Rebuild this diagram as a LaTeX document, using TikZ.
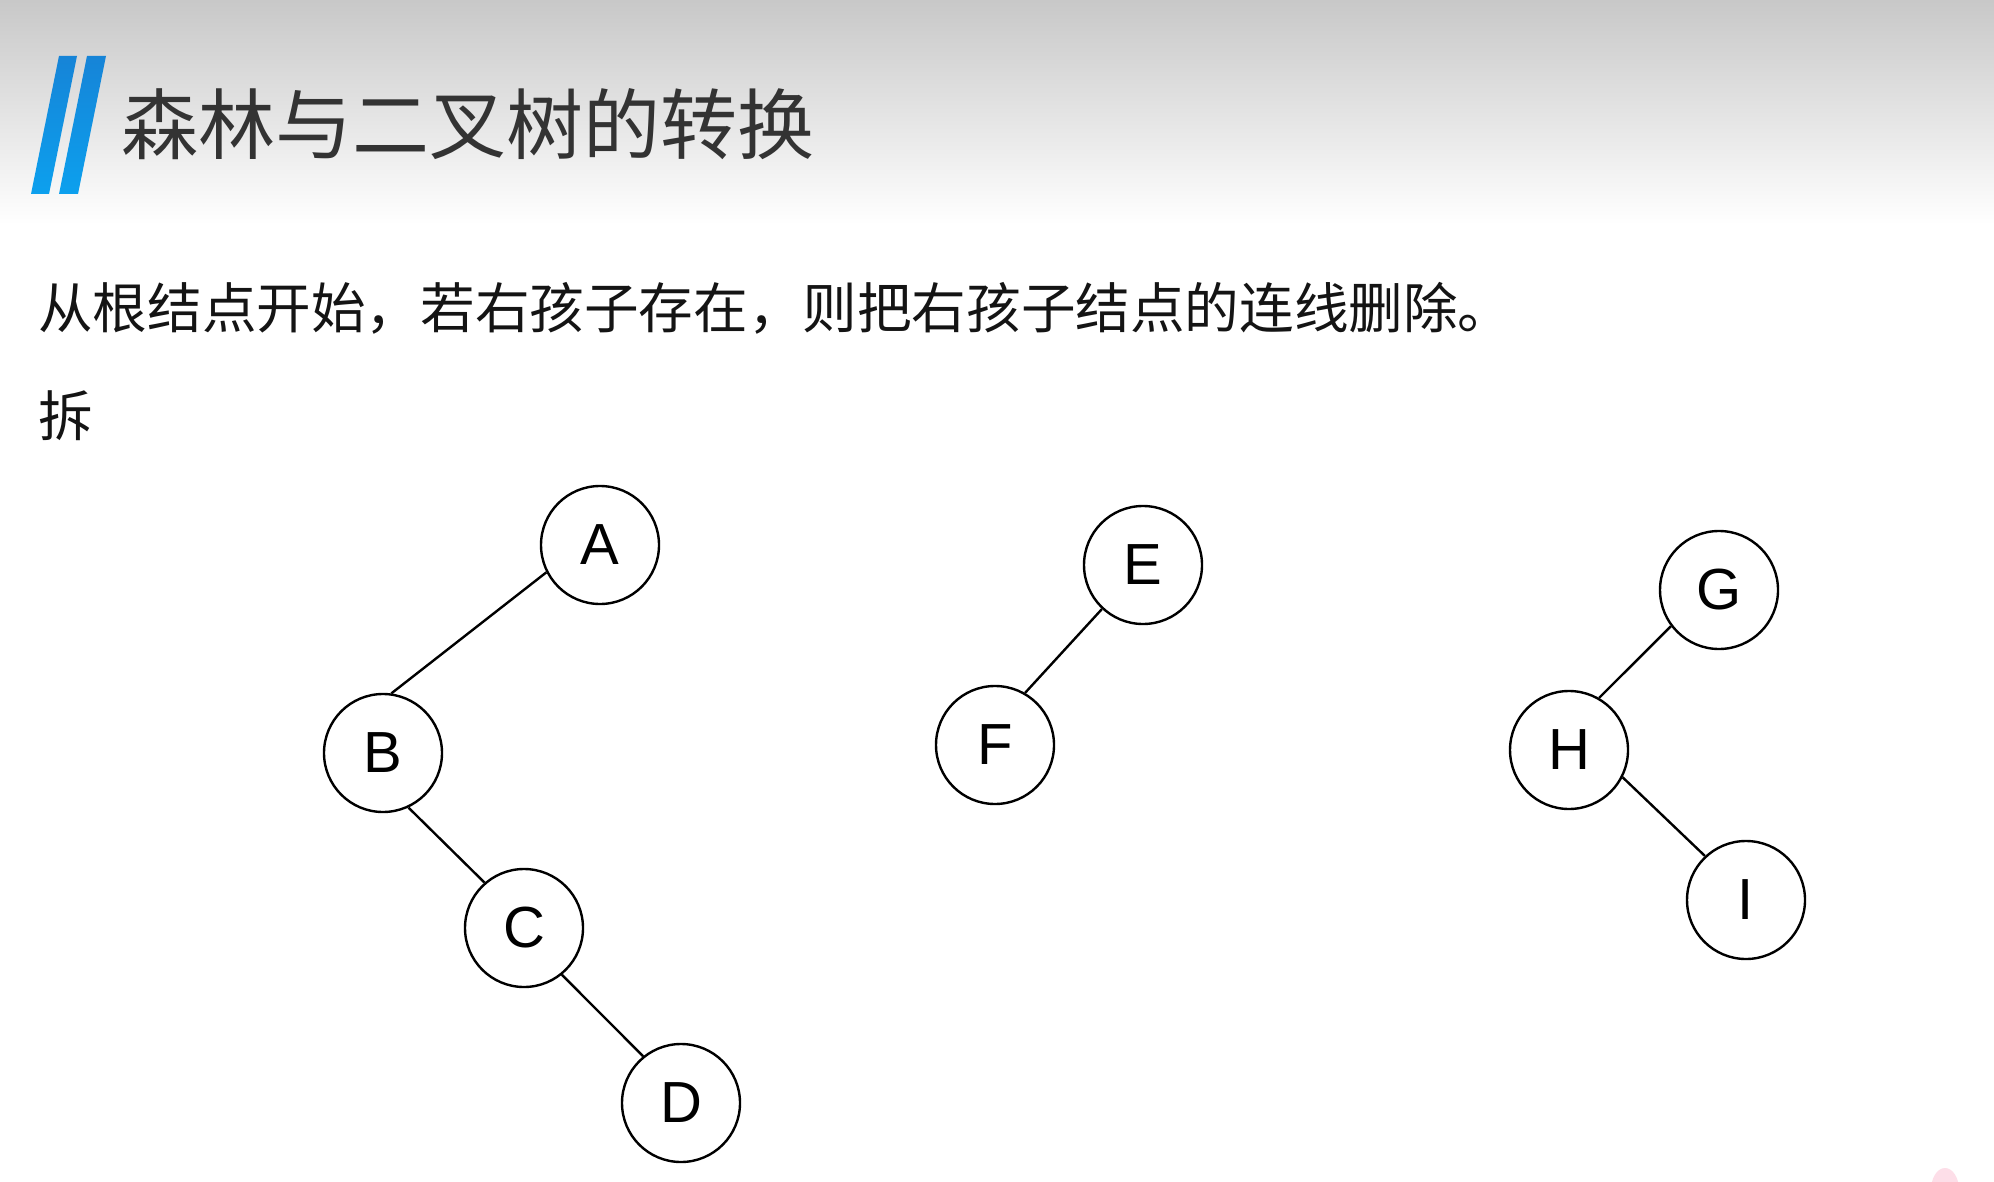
\documentclass[tikz,border=0pt]{standalone}
\usepackage{fontspec}
\setmainfont{Liberation Sans}
\newfontfamily\cjk{Noto Sans CJK SC}
\definecolor{hdrgray}{RGB}{200,200,200}
\definecolor{bartop}{RGB}{22,132,215}
\definecolor{barbot}{RGB}{12,160,238}
\definecolor{titlegray}{RGB}{51,51,51}
\definecolor{bodyblack}{RGB}{20,20,20}
\definecolor{pinkblob}{RGB}{253,222,232}
\begin{document}
\begin{tikzpicture}[x=1pt,y=-1pt,
  tnode/.style={circle,draw,line width=2.4pt,minimum size=118pt,inner sep=0pt,
    font=\fontsize{58}{58}\selectfont},
  edge/.style={line width=2.4pt},
  txt/.style={anchor=west,inner sep=0pt,text=bodyblack,font=\cjk\fontsize{54.6}{55}\selectfont}]
\useasboundingbox (0,0) rectangle (1994,1182);
\fill[white] (0,0) rectangle (1994,1182);
\shade[top color=hdrgray,bottom color=white] (0,0) rectangle (1994,225);
% logo bars
\shade[top color=bartop,bottom color=barbot] (59,56) -- (77,56) -- (49,194) -- (31,194) -- cycle;
\shade[top color=bartop,bottom color=barbot] (87,56) -- (106,56) -- (78,194) -- (59,194) -- cycle;
% title
\node[anchor=west,inner sep=0pt,text=titlegray,font=\cjk\fontsize{77}{77}\selectfont] (title) at (121,124) {森林与二叉树的转换};
% body text
\node[txt] (l1) at (38,308) {从根结点开始，若右孩子存在，则把右孩子结点的连线删除。};
\node[txt] (l2) at (38,416) {拆};
% trees
\node[tnode] (A) at (600,545) {A};
\node[tnode] (B) at (383,753) {B};
\node[tnode] (C) at (524,928) {C};
\node[tnode] (D) at (681,1103) {D};
\node[tnode] (E) at (1143,565) {E};
\node[tnode] (F) at (995,745) {F};
\node[tnode] (G) at (1719,590) {G};
\node[tnode] (H) at (1569,750) {H};
\node[tnode] (I) at (1746,900) {I};
\draw[edge] (A.207) -- (B.82);
\draw[edge] (B.-65) -- (C.131);
\draw[edge] (C.-51) -- (D.129);
\draw[edge] (E.227) -- (F.60);
\draw[edge] (G.217) -- (H.60);
\draw[edge] (H.-27) -- (I.133);
% pink blob at bottom right
\fill[pinkblob] (1945,1190) ellipse [x radius=14, y radius=22];
\end{tikzpicture}
\end{document}
